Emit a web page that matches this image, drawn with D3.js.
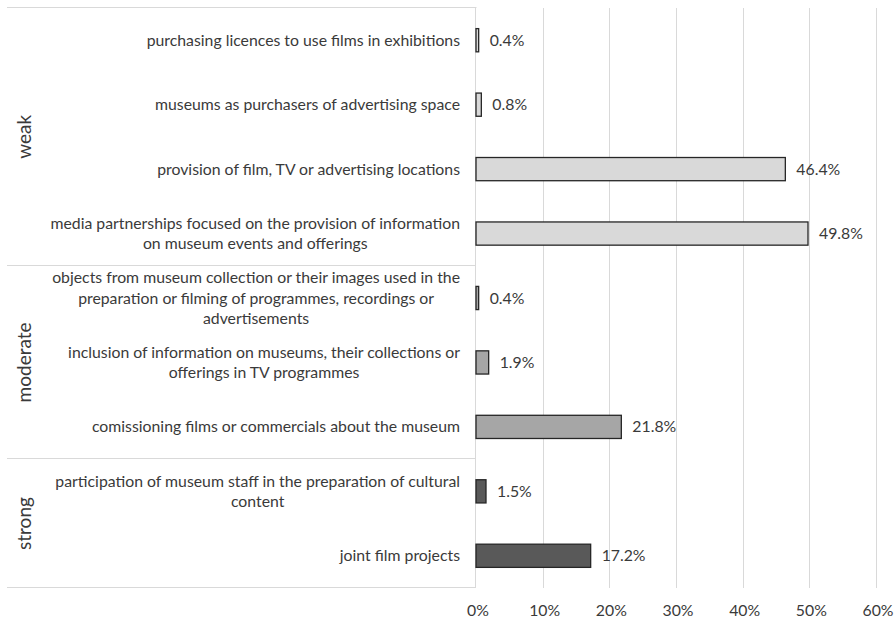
<!DOCTYPE html>
<html>
<head>
<meta charset="utf-8">
<script src="https://cdn.jsdelivr.net/npm/d3@7"></script>
<style>
  body { margin: 0; background: #fff; }
  text { font-family: Lato, "Open Sans", sans-serif; fill: #3a3a3a; }
</style>
</head>
<body>
<svg id="chart" width="896" height="619"></svg>
<script>
// Forms of museum–media cooperation, share of museums (%)
const categories = [
  "purchasing licences to use films in exhibitions",
  "museums as purchasers of advertising space",
  "provision of film, TV or advertising locations",
  "media partnerships focused on the provision of information\non museum events and offerings",
  "objects from museum collection or their images used in the\npreparation or filming of programmes, recordings or\nadvertisements",
  "inclusion of information on museums, their collections or\nofferings in TV programmes",
  "comissioning films or commercials about the museum",
  "participation of museum staff in the preparation of cultural\ncontent",
  "joint film projects"
];
const values = [0.4, 0.8, 46.4, 49.8, 0.4, 1.9, 21.8, 1.5, 17.2];
const groupOf = ["weak", "weak", "weak", "weak", "moderate", "moderate", "moderate", "strong", "strong"];
const groupNames = ["weak", "moderate", "strong"];
const xTicks = [0, 10, 20, 30, 40, 50, 60];

const fillByGroup = { weak: "#d9d9d9", moderate: "#a6a6a6", strong: "#595959" };

const svg = d3.select("#chart");
const plot = { left: 476, right: 876, top: 8, bottom: 588 };
const boxLeft = 7;
const fontSize = "15.8px";

const x = d3.scaleLinear().domain([0, 60]).range([plot.left, plot.right]);
const y = d3.scaleBand().domain(categories).range([plot.top, plot.bottom])
  .paddingInner(0.64).paddingOuter(0.32);

const gridColor = "#d9d9d9";

// vertical gridlines
svg.append("g").selectAll("line").data(xTicks.filter(t => t > 0)).join("line")
  .attr("x1", d => Math.round(x(d)) + 0.5).attr("x2", d => Math.round(x(d)) + 0.5)
  .attr("y1", plot.top).attr("y2", plot.bottom)
  .attr("stroke", gridColor).attr("stroke-width", 1);

// category axis frame: top edge, right edge (0% line), group separators
const step = y.step();
const groupBounds = [];
groupNames.forEach(g => {
  const idx = groupOf.map((d, i) => d === g ? i : -1).filter(i => i >= 0);
  const y0 = plot.top + idx[0] * step;
  const y1 = plot.top + (idx[idx.length - 1] + 1) * step;
  groupBounds.push({ name: g, y0, y1 });
});
const frame = svg.append("g").attr("stroke", gridColor).attr("stroke-width", 1);
frame.append("line").attr("x1", boxLeft).attr("x2", plot.left + 0.5)
  .attr("y1", plot.top - 0.5).attr("y2", plot.top - 0.5);
frame.append("line").attr("x1", x(0) - 0.5).attr("x2", x(0) - 0.5)
  .attr("y1", plot.top - 1).attr("y2", plot.bottom);
frame.selectAll("line.sep").data(groupBounds).join("line").attr("class", "sep")
  .attr("x1", boxLeft).attr("x2", x(0))
  .attr("y1", d => Math.round(d.y1) - 0.5).attr("y2", d => Math.round(d.y1) - 0.5);

// bars
svg.append("g").selectAll("rect").data(values).join("rect")
  .attr("x", x(0))
  .attr("y", (d, i) => y(categories[i]))
  .attr("width", d => x(d) - x(0))
  .attr("height", y.bandwidth())
  .attr("fill", (d, i) => fillByGroup[groupOf[i]])
  .attr("stroke", "#262626").attr("stroke-width", 1.3);

// value labels
svg.append("g").selectAll("text").data(values).join("text")
  .attr("x", d => x(d) + 11)
  .attr("y", (d, i) => y(categories[i]) + y.bandwidth() / 2)
  .attr("dy", "0.35em")
  .style("font-size", fontSize)
  .text(d => d.toFixed(1) + "%");

// category labels, wrapped lines centred within a right-aligned block
const lineH = 20.5;
const labelRight = 460;
categories.forEach((c, i) => {
  const lines = c.split("\n");
  const cy = y(c) + y.bandwidth() / 2;
  const t = svg.append("text").style("font-size", fontSize).attr("text-anchor", "middle");
  const spans = lines.map((ln, k) => t.append("tspan")
    .attr("y", cy + (k - (lines.length - 1) / 2) * lineH)
    .attr("dy", "0.35em").text(ln));
  const w = d3.max(spans, s => s.node().getComputedTextLength());
  spans.forEach(s => s.attr("x", labelRight - w / 2));
});

// group labels
svg.append("g").selectAll("text").data(groupBounds).join("text")
  .attr("transform", d => `translate(24,${(d.y0 + d.y1) / 2}) rotate(-90)`)
  .attr("text-anchor", "middle").attr("dy", "0.35em")
  .style("font-size", "19px")
  .text(d => d.name);

// x axis tick labels
svg.append("g").selectAll("text").data(xTicks).join("text")
  .attr("x", d => x(d) + 2)
  .attr("y", 610).attr("dy", "0.35em")
  .attr("text-anchor", "middle")
  .style("font-size", fontSize)
  .text(d => d + "%");
</script>
</body>
</html>
